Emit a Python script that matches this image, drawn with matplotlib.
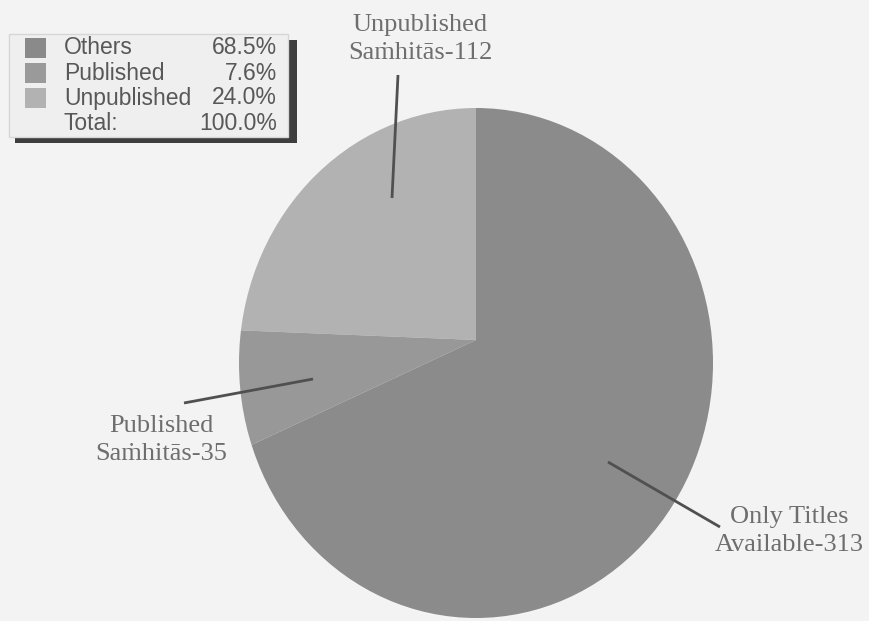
import matplotlib
matplotlib.use("Agg")
import matplotlib.pyplot as plt
from matplotlib.patches import Ellipse, Rectangle

# Survey of Samhita manuscripts
legend_names = ["Others", "Published", "Unpublished"]
legend_shares = [68.5, 7.6, 24.0]
total_share = 100.0

slice_names = ["Unpublished", "Published", "Others"]
slice_counts = [112, 35, 313]
slice_colors = ["#b2b2b2", "#989898", "#8b8b8b"]
legend_colors = ["#8a8a8a", "#9a9a9a", "#b2b2b2"]

callouts = ["Unpublished\nSaṁhitās-112", "Published\nSaṁhitās-35", "Only Titles\nAvailable-313"]

W, H = 869, 621
BG = "#f3f3f3"


def fy(y):
    """Convert a top-down pixel row into the axes' y coordinate."""
    return H - y


fig = plt.figure(figsize=(W / 100, H / 100), dpi=100)
fig.patch.set_facecolor(BG)
ax = fig.add_axes([0, 0, 1, 1])
ax.set_facecolor(BG)

# Pie drawn from its vertex, trimmed to an elliptical outline
wedges, _ = ax.pie(slice_counts, colors=slice_colors, startangle=90, counterclock=True,
                   center=(476, fy(340)), radius=420, wedgeprops=dict(linewidth=0))
outline = Ellipse((476, fy(363)), 474, 510, facecolor="none", edgecolor="none")
ax.add_patch(outline)
for w in wedges:
    w.set_clip_on(True)
    w.set_clip_path(outline)

ax.set_xlim(0, W)
ax.set_ylim(0, H)
ax.set_aspect("auto")
ax.axis("off")

# Leader lines
lead_kw = dict(color="#505050", lw=2.0, solid_capstyle="butt")
ax.plot([398, 392], [fy(75), fy(198)], **lead_kw)
ax.plot([184, 313], [fy(403), fy(379)], **lead_kw)
ax.plot([608, 720], [fy(462), fy(527)], **lead_kw)

serif = ["Liberation Serif", "DejaVu Serif"]
lab_kw = dict(family=serif, fontsize=19, color="#6e6e6e", ha="center", va="center", linespacing=1.32)
ax.text(420, fy(39), callouts[0], **lab_kw)
ax.text(161, fy(440), callouts[1], **lab_kw)
ax.text(789, fy(531), callouts[2], **lab_kw)

# Legend box with drop shadow
ax.add_patch(Rectangle((15, fy(143)), 282, 103, facecolor="#3e3e3e", edgecolor="none"))
ax.add_patch(Rectangle((9, fy(137)), 279, 103, facecolor="#efefef", edgecolor="#d6d6d6", lw=1))

sans = ["Liberation Sans", "DejaVu Sans"]
leg_kw = dict(family=sans, fontsize=16.5, color="#585858", va="center")
rows = [48, 73, 98]
for name, share, col, y in zip(legend_names, legend_shares, legend_colors, rows):
    ax.add_patch(Rectangle((25, fy(y + 10)), 21, 20, facecolor=col, edgecolor="none"))
    ax.text(64, fy(y), name, ha="left", **leg_kw)
    ax.text(277, fy(y), f"{share:.1f}%", ha="right", **leg_kw)
ax.text(64, fy(123), "Total:", ha="left", **leg_kw)
ax.text(277, fy(123), f"{total_share:.1f}%", ha="right", **leg_kw)

fig.savefig("out.png", dpi=100, facecolor=fig.get_facecolor())
